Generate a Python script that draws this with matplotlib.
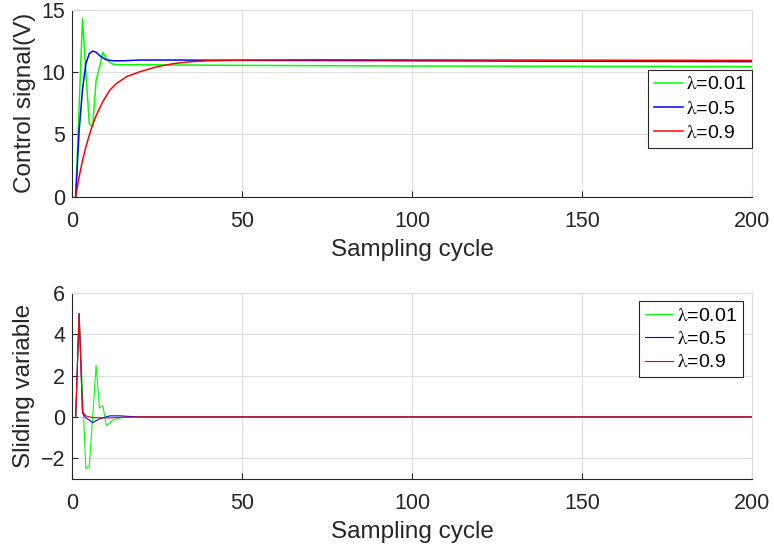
import numpy as np
import matplotlib.pyplot as plt

plt.rcParams['font.family'] = ['Liberation Sans', 'DejaVu Sans']
plt.rcParams['mathtext.fontset'] = 'stix'

labels = [r'$\mathrm{\lambda}$=0.01', r'$\mathrm{\lambda}$=0.5', r'$\mathrm{\lambda}$=0.9']
colors = ['#00ff00', '#0000ff', '#ff0000']

# control signal (sample index, value)
u_green_k = [1, 2, 3, 4, 5, 6, 7, 8, 9, 10, 11, 12, 14, 20, 50, 100, 200]
u_green = [0, 7.2, 14.3, 10.0, 5.85, 5.65, 9.35, 10.4, 11.6, 11.1, 10.8, 10.65, 10.6, 10.6, 10.55, 10.5, 10.45]
u_blue_k = [1, 2, 3, 4, 5, 6, 7, 8, 9, 10, 12, 15, 20, 30, 60, 200]
u_blue = [0, 5.3, 8.6, 10.7, 11.5, 11.7, 11.6, 11.35, 11.15, 11.0, 10.92, 10.92, 10.98, 10.98, 10.95, 10.85]
u_red_k = [1, 2, 3, 4, 5, 6, 7, 8, 9, 10, 11, 13, 16, 20, 25, 30, 35, 40, 50, 70, 200]
u_red = [0, 1.6, 2.9, 4.0, 4.95, 5.8, 6.5, 7.1, 7.65, 8.1, 8.55, 9.1, 9.65, 10.05, 10.45, 10.7, 10.85, 10.92, 10.97, 11.0, 10.95]

# sliding variable
s_green_k = [1, 2, 3, 4, 5, 6, 7, 8, 9, 10, 11, 12, 14, 16, 200]
s_green = [0, 5.0, 1.2, -2.5, -2.38, 0.0, 2.5, 0.42, 0.55, -0.42, -0.3, -0.15, -0.05, 0, 0]
s_blue_k = [1, 2, 3, 4, 5, 6, 7, 8, 9, 10, 11, 14, 17, 20, 200]
s_blue = [0, 5.0, 0.2, -0.05, -0.15, -0.28, -0.18, -0.1, -0.05, 0, 0.05, 0.05, 0.02, 0, 0]
s_red_k = [1, 2, 3, 4, 5, 6, 10, 15, 20, 200]
s_red = [0, 5.0, 0.25, 0.05, 0, -0.03, -0.05, -0.02, 0, 0]

xticks = [0, 50, 100, 150, 200]

fig = plt.figure(figsize=(7.74, 5.48), dpi=100)
ax1 = fig.add_axes([72.3/774, 1-196.7/548, 680/774, 186.7/548])
ax2 = fig.add_axes([72.3/774, 1-479/548, 680/774, 186.3/548])

dark = '#262626'


def style(ax):
    ax.set_xlim(0, 200)
    ax.set_xticks(xticks)
    ax.grid(True, color='#dfdfdf', linewidth=0.8)
    ax.set_axisbelow(True)
    for s in ['left', 'bottom']:
        ax.spines[s].set_color(dark)
        ax.spines[s].set_linewidth(0.8)
    for s in ['top', 'right']:
        ax.spines[s].set_color('#dcdcdc')
        ax.spines[s].set_linewidth(0.8)
    ax.tick_params(direction='in', length=4.5, width=0.8, colors=dark,
                   labelsize=15.5)
    ax.tick_params(axis='x', pad=10)
    ax.tick_params(axis='y', pad=5)
    ax.set_xlabel('Sampling cycle', fontsize=17.5, color=dark, labelpad=5)


ax1.plot(u_green_k, u_green, color=colors[0], lw=1.1, label=labels[0])
ax1.plot(u_blue_k, u_blue, color=colors[1], lw=1.1, label=labels[1])
ax1.plot(u_red_k, u_red, color=colors[2], lw=1.1, label=labels[2])
style(ax1)
ax1.set_ylim(0, 15)
ax1.set_yticks([0, 5, 10, 15])
ax1.set_ylabel('Control signal(V)', fontsize=17.5, color=dark, labelpad=4)
leg1 = ax1.legend(loc='upper right', bbox_to_anchor=(1.0, 0.679), borderaxespad=0,
                  fontsize=14, handlelength=1.45, handletextpad=0.2,
                  labelspacing=0.35, borderpad=0.3, fancybox=False,
                  edgecolor=dark, framealpha=1)
leg1.get_frame().set_linewidth(0.8)

ax2.plot(s_green_k, s_green, color=colors[0], lw=0.8, label=labels[0])
ax2.plot(s_blue_k, s_blue, color=colors[1], lw=0.8, label=labels[1])
ax2.plot(s_red_k, s_red, color=colors[2], lw=0.8, label=labels[2])
style(ax2)
ax2.set_ylim(-3, 6)
ax2.set_yticks([-2, 0, 2, 4, 6])
ax2.set_ylabel('Sliding variable', fontsize=17.5, color=dark, labelpad=4)
leg2 = ax2.legend(loc='upper right', bbox_to_anchor=(0.986, 0.955), borderaxespad=0,
                  fontsize=14, handlelength=1.45, handletextpad=0.2,
                  labelspacing=0.3, borderpad=0.3, fancybox=False,
                  edgecolor=dark, framealpha=1)
leg2.get_frame().set_linewidth(0.8)

fig.savefig('out.png', dpi=100)
